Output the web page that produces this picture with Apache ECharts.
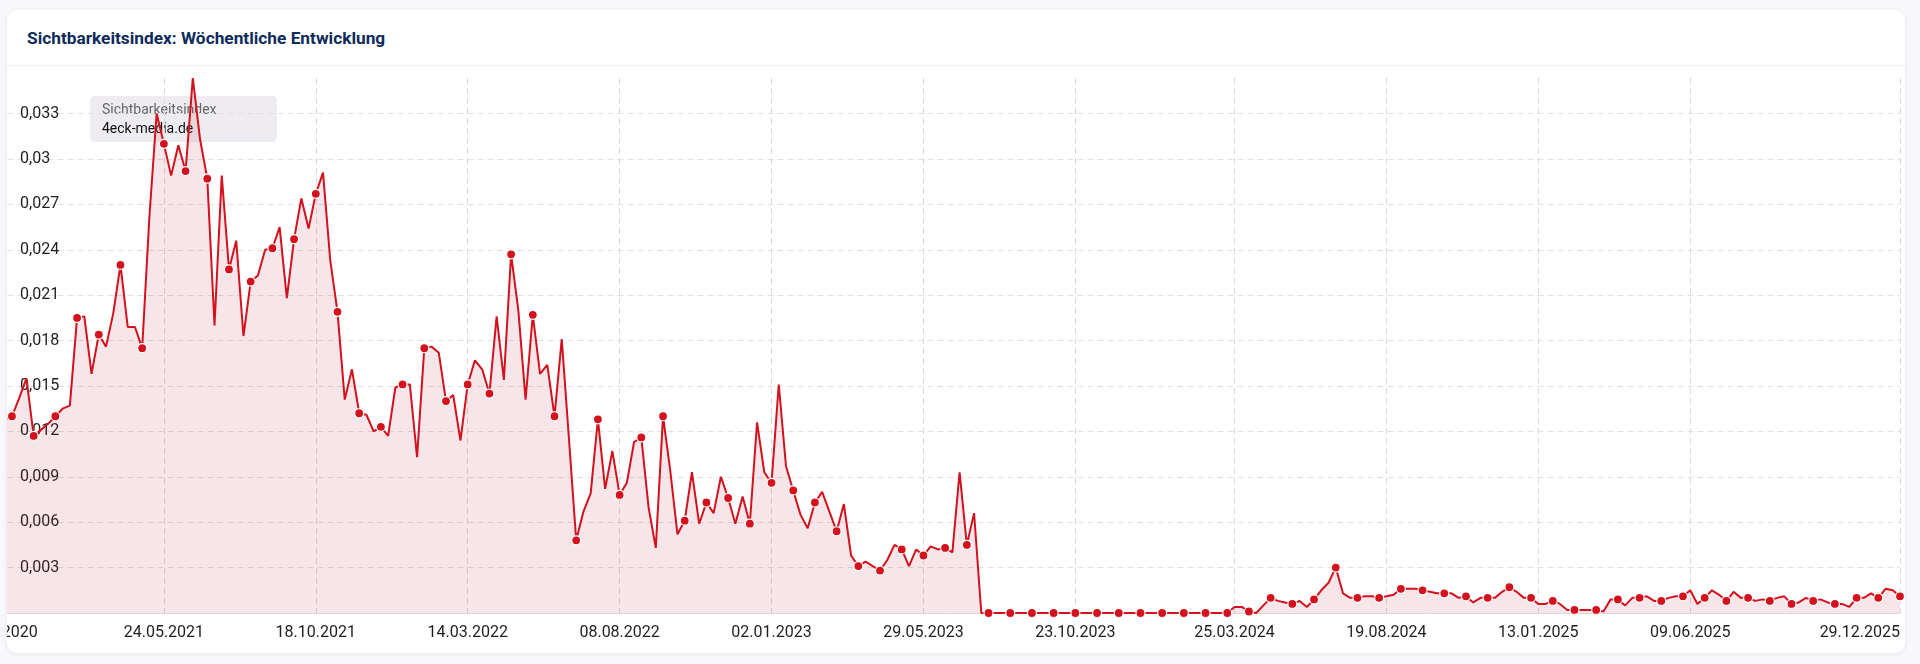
<!DOCTYPE html>
<html>
<head>
<meta charset="utf-8">
<script src="https://cdn.jsdelivr.net/npm/echarts@6/dist/echarts.min.js"></script>
<style>
  html, body { margin: 0; padding: 0; background: #f8f7fa; }
  body { width: 1920px; height: 664px; position: relative; overflow: hidden; font-family: Roboto, sans-serif; }
  .card {
    position: absolute; left: 7px; top: 10px; width: 1898px; height: 643px;
    background: #fff; border-radius: 10px; overflow: hidden;
    box-shadow: 0 1px 4px rgba(40, 30, 60, 0.08);
  }
  .card-head {
    height: 55px; line-height: 56px; padding-left: 20px;
    border-bottom: 1px solid #f1eff4;
    font-weight: 700; font-size: 17.3px; color: #0e2b5c;
  }
  #main { position: absolute; left: -20px; top: 56px; width: 1933px; height: 587px; }
</style>
</head>
<body>
<div class="card">
  <!-- Kopfzeile -->
  <div class="card-head">Sichtbarkeitsindex: Wöchentliche Entwicklung</div>
  <!-- Diagramm -->
  <div id="main"></div>
</div>
<script>
// erste Woche der Reihe (wird links vom Karton abgeschnitten)
var startDate = '2020-12-14'

// beschriftete Wochen auf der x-Achse
var tickLabels = ['14.12.2020', '24.05.2021', '18.10.2021', '14.03.2022', '08.08.2022', '02.01.2023',
  '29.05.2023', '23.10.2023', '25.03.2024', '19.08.2024', '13.01.2025', '09.06.2025', '29.12.2025']

// Sichtbarkeitsindex 4eck-media.de, eine Zahl pro Woche
var visibility = [
  0.0125, 0.0128,
  0.0130, 0.0142, 0.0155, 0.0117, 0.0121, 0.0125, 0.0130, 0.0135, 0.0137, 0.0195,
  0.0196, 0.0158, 0.0184, 0.0176, 0.0198, 0.0230, 0.0189, 0.0189, 0.0175, 0.0262,
  0.0330, 0.0310, 0.0289, 0.0309, 0.0292, 0.03535, 0.0313, 0.0287, 0.0190, 0.0289,
  0.0227, 0.0246, 0.0183, 0.0219, 0.0223, 0.0240, 0.0241, 0.0255, 0.0208, 0.0247,
  0.0274, 0.0254, 0.0277, 0.0291, 0.0233, 0.0199, 0.0141, 0.0161, 0.0132, 0.0131,
  0.0120, 0.0123, 0.0117, 0.0149, 0.0151, 0.0151, 0.0103, 0.0175, 0.0176, 0.0172,
  0.0140, 0.0144, 0.0114, 0.0151, 0.0167, 0.0161, 0.0145, 0.0196, 0.0154, 0.0237,
  0.0200, 0.0141, 0.0197, 0.0158, 0.0164, 0.0130, 0.0181, 0.0115, 0.0048, 0.0067,
  0.0079, 0.0128, 0.0082, 0.0107, 0.0078, 0.0086, 0.0113, 0.0116, 0.0070, 0.0043,
  0.0130, 0.0094, 0.0052, 0.0061, 0.0093, 0.0059, 0.0073, 0.0066, 0.0090, 0.0076,
  0.0059, 0.0077, 0.0059, 0.0126, 0.0093, 0.0086, 0.0151, 0.0097, 0.0081, 0.0065,
  0.0056, 0.0073, 0.0080, 0.0067, 0.0054, 0.0072, 0.0038, 0.0031, 0.0034, 0.0031,
  0.0028, 0.0035, 0.0045, 0.0042, 0.0031, 0.0042, 0.0038, 0.0044, 0.0042, 0.0043,
  0.0040, 0.0093, 0.0045, 0.0066, 0, 0, 0, 0, 0, 0,
  0, 0, 0, 0, 0, 0, 0, 0, 0, 0,
  0, 0, 0, 0, 0, 0, 0, 0, 0, 0,
  0, 0, 0, 0, 0, 0, 0, 0, 0, 0.0004,
  0.0004, 0.0001, 0, 0.0005, 0.0010, 0.0008, 0.0007, 0.0006, 0.0008, 0.0004,
  0.0009, 0.0015, 0.0020, 0.0030, 0.0013, 0.0010, 0.0010, 0.0011, 0.0011, 0.0010,
  0.0011, 0.0012, 0.0016, 0.0016, 0.0016, 0.0015, 0.0014, 0.0013, 0.0013, 0.0013,
  0.0010, 0.0011, 0.0007, 0.0010, 0.0010, 0.0010, 0.0014, 0.0017, 0.0014, 0.0010,
  0.0010, 0.0006, 0.0006, 0.0008, 0.0006, 0.0002, 0.0002, 0.0002, 0.0002, 0.0002,
  0.0001, 0.0009, 0.0009, 0.0005, 0.0010, 0.0010, 0.0011, 0.0008, 0.0008, 0.0010,
  0.0011, 0.0011, 0.0015, 0.0006, 0.0010, 0.0015, 0.0012, 0.0008, 0.0014, 0.0010,
  0.0010, 0.0008, 0.0009, 0.0008, 0.0010, 0.0011, 0.0006, 0.0007, 0.0010, 0.0008,
  0.0009, 0.0007, 0.0006, 0.0006, 0.0004, 0.0010, 0.0010, 0.0013, 0.0010, 0.0016,
  0.0015, 0.0011
]

// Wochen als TT.MM.JJJJ
var weeks = []
var d0 = new Date(startDate + 'T00:00:00Z')
for (var i = 0; i < visibility.length; i++) {
  var d = new Date(d0.getTime() + i * 7 * 86400000)
  weeks.push(
    String(d.getUTCDate()).padStart(2, '0') + '.' +
    String(d.getUTCMonth() + 1).padStart(2, '0') + '.' + d.getUTCFullYear()
  )
}

var red = '#d3121d'
var showTick = function (index, value) {
  return tickLabels.indexOf(value) !== -1
}

var myChart = echarts.init(document.getElementById('main'))

var option = {
  animation: false,
  grid: { left: 10.5, right: 20, top: 12, bottom: 40, containLabel: false, outerBoundsMode: 'none' },
  xAxis: {
    type: 'category',
    boundaryGap: false,
    data: weeks,
    axisLine: { lineStyle: { color: '#e3d4d8', width: 1 } },
    axisTick: { show: false },
    axisLabel: {
      interval: showTick,
      margin: 12,
      fontSize: 16,
      fontFamily: 'Roboto',
      color: '#1f1f1f',
      alignMaxLabel: 'right',
    },
    splitLine: {
      show: true,
      interval: showTick,
      lineStyle: { color: '#dadada', type: [6, 4], width: 1 },
    },
  },
  yAxis: {
    type: 'value',
    min: 0,
    max: 0.03535,
    interval: 0.003,
    axisLine: { show: false },
    axisTick: { show: false },
    axisLabel: {
      inside: true,
      margin: 22.5,
      fontSize: 16,
      fontFamily: 'Roboto',
      color: '#1f1f1f',
      showMinLabel: false,
      showMaxLabel: false,
      formatter: function (v) {
        return String(+v.toFixed(3)).replace('.', ',')
      },
    },
    splitLine: {
      showMaxLine: false,
      showMinLine: false,
      lineStyle: { color: '#e1e1e1', type: [6, 4], width: 1 },
    },
  },
  graphic: [
    {
      type: 'group',
      left: 103,
      top: 30,
      z: 1,
      children: [
        {
          type: 'rect',
          shape: { x: 0, y: 0, width: 187, height: 46, r: 5 },
          style: { fill: 'rgba(236,234,239,0.9)' },
        },
        {
          type: 'text',
          x: 12, y: 14,
          style: { text: 'Sichtbarkeitsindex', fill: '#666', fontSize: 14, fontFamily: 'Roboto', verticalAlign: 'middle' },
        },
        {
          type: 'text',
          x: 12, y: 33,
          style: { text: '4eck-media.de', fill: '#111', fontSize: 14, fontFamily: 'Roboto', verticalAlign: 'middle' },
        },
      ],
    },
  ],
  series: [
    {
      name: '4eck-media.de',
      type: 'line',
      data: visibility,
      showAllSymbol: true,
      symbol: 'circle',
      // jeder dritte Wochenpunkt bekommt einen Marker
      symbolSize: function (val, params) {
        return (params.dataIndex - 2) % 3 === 0 ? 9 : 0
      },
      lineStyle: { color: red, width: 2 },
      itemStyle: { color: red, borderColor: '#fff', borderWidth: 1.2 },
      areaStyle: { color: 'rgba(190,40,65,0.17)' },
      emphasis: { disabled: true },
    },
  ],
}

myChart.setOption(option)
</script>
</body>
</html>
